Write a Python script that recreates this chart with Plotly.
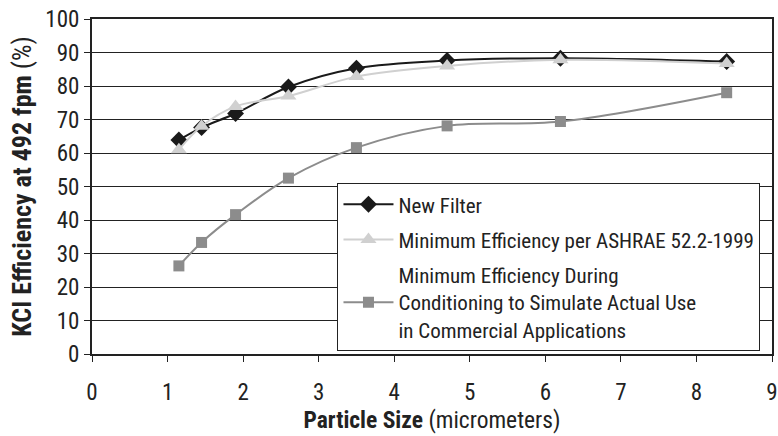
import plotly.graph_objects as go

particle_size = [1.15, 1.45, 1.9, 2.6, 3.5, 4.7, 6.2, 8.4]
new_filter = [63.9, 67.6, 71.8, 79.7, 85.3, 87.6, 88.3, 87.3]
ashrae_min = [61.0, 68.0, 73.9, 77.0, 82.8, 86.0, 87.8, 86.7]
conditioning = [26.3, 33.3, 41.6, 52.5, 61.6, 68.1, 69.4, 78.0]

names = ["New Filter",
         "Minimum Efficiency per ASHRAE 52.2-1999",
         "Minimum Efficiency During<br>Conditioning to Simulate Actual Use<br>in Commercial Applications"]

NARROW = "Liberation Sans Narrow, Arial Narrow, Roboto Condensed, Roboto, sans-serif"

fig = go.Figure()
fig.add_trace(go.Scatter(x=particle_size, y=new_filter, mode="lines+markers", name=names[0],
                         legendgroup="a",
                         line=dict(color="#1a1a1a", width=2, shape="spline"),
                         marker=dict(symbol="diamond", size=13, color="#1a1a1a")))
fig.add_trace(go.Scatter(x=particle_size, y=ashrae_min, mode="lines+markers", name=names[1],
                         legendgroup="b",
                         line=dict(color="#d0d0d0", width=2, shape="spline"),
                         marker=dict(symbol="triangle-up", size=14, color="#d0d0d0")))
fig.add_trace(go.Scatter(x=particle_size, y=conditioning, mode="lines+markers", name=names[2],
                         legendgroup="c",
                         line=dict(color="#8c8c8c", width=2, shape="spline"),
                         marker=dict(symbol="square", size=11, color="#8c8c8c")))

fig.update_layout(
    width=778, height=436,
    margin=dict(l=92, r=6, t=19, b=82),
    paper_bgcolor="white", plot_bgcolor="white",
    font=dict(family=NARROW, color="#222222", size=20),
    showlegend=True,
    legend=dict(x=0.361, y=0.510, xanchor="left", yanchor="top",
                bgcolor="white", bordercolor="#222222", borderwidth=1,
                font=dict(family=NARROW, size=21, color="#222222"),
                itemwidth=50, traceorder="grouped", tracegroupgap=5),
    xaxis=dict(range=[0, 9], tickmode="linear", tick0=0, dtick=1,
               ticks="outside", ticklen=6, tickcolor="#222222",
               showgrid=False, showline=True, linecolor="#222222", linewidth=2,
               mirror=True, zeroline=False, automargin=False,
               ticklabelstandoff=10,
               tickfont=dict(family=NARROW, size=23),
               title=dict(text="<b>Particle Size</b> (micrometers)",
                          font=dict(family=NARROW, size=23.5), standoff=7)),
    yaxis=dict(range=[0, 100], tickmode="linear", tick0=0, dtick=10,
               ticks="outside", ticklen=6, tickcolor="#222222",
               showgrid=True, gridcolor="#222222", gridwidth=1,
               showline=True, linecolor="#222222", linewidth=2,
               mirror=True, zeroline=False, automargin=False,
               tickfont=dict(family=NARROW, size=23),
               title=dict(text="<b>KCI Efficiency at 492 fpm</b> (%)",
                          font=dict(family=NARROW, size=26), standoff=6)),
)

fig.write_html("out.html", config={"displayModeBar": False},
               post_script="document.body.style.margin='0';document.body.style.overflow='hidden';")
